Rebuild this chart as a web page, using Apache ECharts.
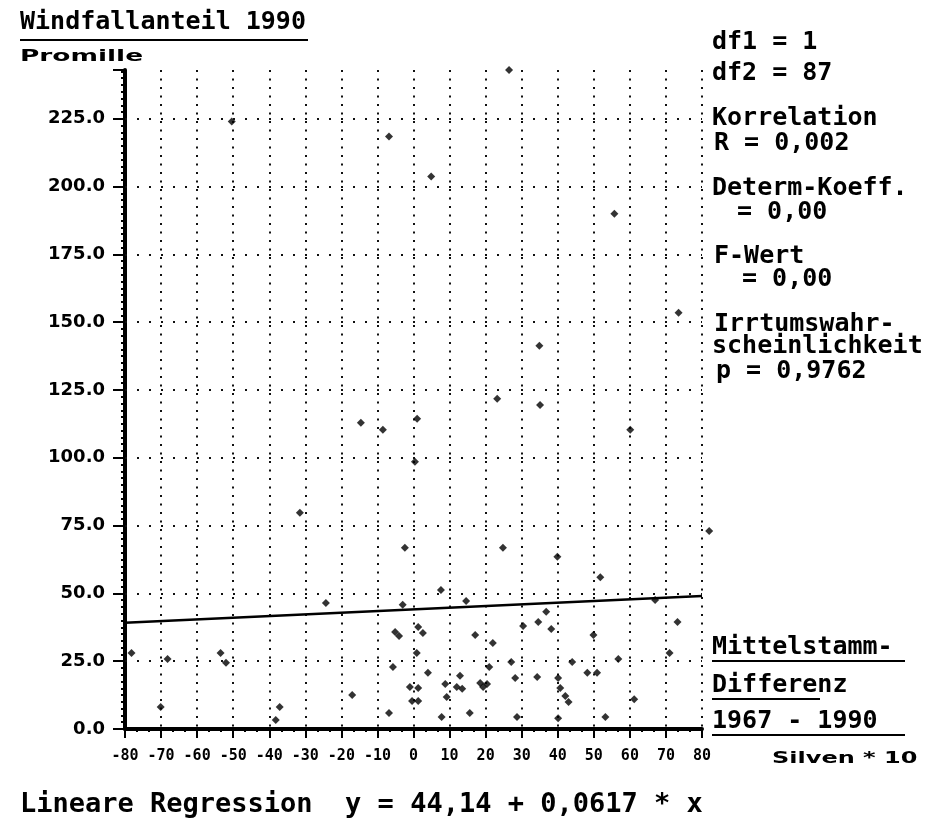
<!DOCTYPE html>
<html>
<head>
<meta charset="utf-8">
<title>Windfallanteil 1990</title>
<script src="https://cdn.jsdelivr.net/npm/echarts@6/dist/echarts.min.js"></script>
<style>
    html, body { margin: 0; padding: 0; background: #fff; }
    .chart { width: 936px; height: 823px; }
</style>
</head>
<body>
<div class="chart"></div>
<script>
// 数据 (Silven * 10 / Promille)
var xWerte = [26.5, -50.4, -6.8, 4.9, 55.7, 73.5, 34.9, 23.2, 35.1, 1, 60.1, 0.4, -14.6, -8.5, -31.5, 82,
    -2.4, 24.8, 39.9, 51.8, 7.6, -24.3, -3, 14.6, 67, 36.8, 34.6, 30.4, 38.2, 73.2, -5.1, -4, 1.3, 2.6,
    17.1, 49.9, 22, -78.2, -68.2, -53.5, -52, 0.9, 71, 27.1, 44, 56.8, -5.7, 21, 4, 12.9, 28.2, 34.3,
    40.1, 48.2, 50.9, -1, 1.3, 8.8, 12, 13.5, 18.5, 19.3, 20.4, 40.7, 42.1, 43, -17, -0.4, 1.3, 9.2,
    61.2, -70.1, -37.1, -38.2, -6.8, 7.8, 15.6, 28.7, 40.1, 53.2];
var yWerte = [243, 224, 218.5, 203.7, 190, 153.5, 141.3, 121.8, 119.5, 114.4, 110.3, 98.5, 112.9, 110.3, 79.7, 73,
    66.8, 66.8, 63.5, 56, 51.3, 46.5, 45.8, 47.2, 47.6, 43.2, 39.5, 38, 36.9, 39.5, 35.8, 34.3, 37.6, 35.4,
    34.7, 34.7, 31.7, 28, 25.8, 28, 24.4, 28, 28, 24.7, 24.7, 25.8, 22.9, 22.9, 20.7, 19.6, 18.8, 19.2,
    18.8, 20.7, 20.7, 15.5, 15.1, 16.6, 15.5, 14.8, 17, 15.5, 16.6, 15.1, 12.2, 10, 12.5, 10.3, 10.3, 11.8,
    11, 8.1, 8.1, 3.3, 5.9, 4.4, 5.9, 4.4, 4, 4.4];
// 水平网格
var yGitter = [25, 50, 75, 100, 125, 150, 175, 200, 225];
// 回归系数 y = a + b * x
var regA = 44.14;
var regB = 0.0617;
// 右侧文字
var statistik = [
    ['df1 = 1', 712, 42],
    ['df2 = 87', 712, 73],
    ['Korrelation', 712, 118],
    ['R = 0,002', 714, 143],
    ['Determ-Koeff.', 712, 188],
    ['= 0,00', 737, 212],
    ['F-Wert', 714, 256],
    ['= 0,00', 742, 279],
    ['Irrtumswahr-', 714, 324],
    ['scheinlichkeit', 712, 346],
    ['p = 0,9762', 716, 371]
];
var mittelstamm = ['Mittelstamm-', 'Differenz', '1967 - 1990'];

(function() {
    var myChart = echarts.init(document.querySelector('.chart'));
    var mono = 'DejaVu Sans Mono';
    var punkte = [];
    for (var i = 0; i < xWerte.length; i++) {
        punkte.push([xWerte[i], yWerte[i]]);
    }
    var regLinie = [[-80, regA + regB * -80], [80, regA + regB * 80]];

    // 文字
    var graphic = [];
    graphic.push({ type: 'text', x: 20, y: 22, style: { text: 'Windfallanteil 1990', font: 'bold 25px ' + mono, fill: '#000', verticalAlign: 'middle' } });
    graphic.push({ type: 'rect', shape: { x: 20, y: 39, width: 288, height: 2 }, style: { fill: '#000' } });
    graphic.push({ type: 'text', x: 20, y: 57, scaleX: 1.65, style: { text: 'Promille', font: 'bold 16px DejaVu Sans', fill: '#000', verticalAlign: 'middle' } });
    graphic.push({ type: 'text', x: 772, y: 759, scaleX: 1.6, style: { text: 'Silven * 10', font: 'bold 15px DejaVu Sans', fill: '#000', verticalAlign: 'middle' } });
    statistik.forEach(function(s) {
        graphic.push({ type: 'text', x: s[1], y: s[2], style: { text: s[0], font: 'bold 25px ' + mono, fill: '#000', verticalAlign: 'middle' } });
    });
    var unterY = [647, 685, 721];
    var unterW = [193, 108, 193];
    mittelstamm.forEach(function(t, i) {
        graphic.push({ type: 'text', x: 712, y: unterY[i], style: { text: t, font: 'bold 25px ' + mono, fill: '#000', verticalAlign: 'middle' } });
        graphic.push({ type: 'rect', shape: { x: 712, y: unterY[i] + 13, width: unterW[i], height: 2 }, style: { fill: '#000' } });
    });
    graphic.push({ type: 'text', x: 20, y: 805, style: { text: 'Lineare Regression  y = 44,14 + 0,0617 * x', font: 'bold 27px ' + mono, fill: '#000', verticalAlign: 'middle' } });

    var option = {
        animation: false,
        backgroundColor: '#fff',
        graphic: graphic,
        grid: {
            left: 125,
            right: 234,
            top: 70,
            bottom: 94
        },
        xAxis: {
            type: 'value',
            min: -80,
            max: 80,
            interval: 10,
            axisLine: { onZero: false, lineStyle: { color: '#000', width: 4 } },
            axisTick: { length: 9, lineStyle: { color: '#000', width: 2 } },
            minorTick: { show: true, splitNumber: 3, length: 3, lineStyle: { color: '#000', width: 2 } },
            axisLabel: { margin: 20, fontFamily: mono, fontWeight: 'bold', fontSize: 15, color: '#000' },
            splitLine: { show: true, lineStyle: { color: '#111', width: 2, type: [2, 6.5] } }
        },
        yAxis: {
            type: 'value',
            min: 0,
            max: 243,
            interval: 25,
            axisLine: { show: true, onZero: false, lineStyle: { color: '#000', width: 4 } },
            axisTick: { show: true, length: 12, lineStyle: { color: '#000', width: 2 } },
            minorTick: { show: true, splitNumber: 10, length: 4, lineStyle: { color: '#000', width: 2 } },
            axisLabel: {
                margin: 20,
                fontFamily: 'DejaVu Sans',
                fontWeight: 'bold',
                fontSize: 18,
                color: '#000',
                formatter: function(v) {
                    return v % 25 === 0 ? v.toFixed(1) : '';
                }
            },
            splitLine: { show: false }
        },
        series: [
            {
                // 回归线 + 水平网格
                type: 'line',
                data: regLinie,
                symbol: 'none',
                lineStyle: { color: '#000', width: 2.5 },
                markLine: {
                    silent: true,
                    symbol: ['none', 'none'],
                    label: { show: false },
                    lineStyle: { color: '#111', width: 2, type: [2, 10] },
                    data: yGitter.map(function(v) { return { yAxis: v }; })
                }
            },
            {
                type: 'scatter',
                data: punkte,
                symbol: 'diamond',
                symbolSize: 8,
                clip: false,
                itemStyle: { color: '#000' }
            }
        ]
    };
    myChart.setOption(option);
})();
</script>
</body>
</html>
